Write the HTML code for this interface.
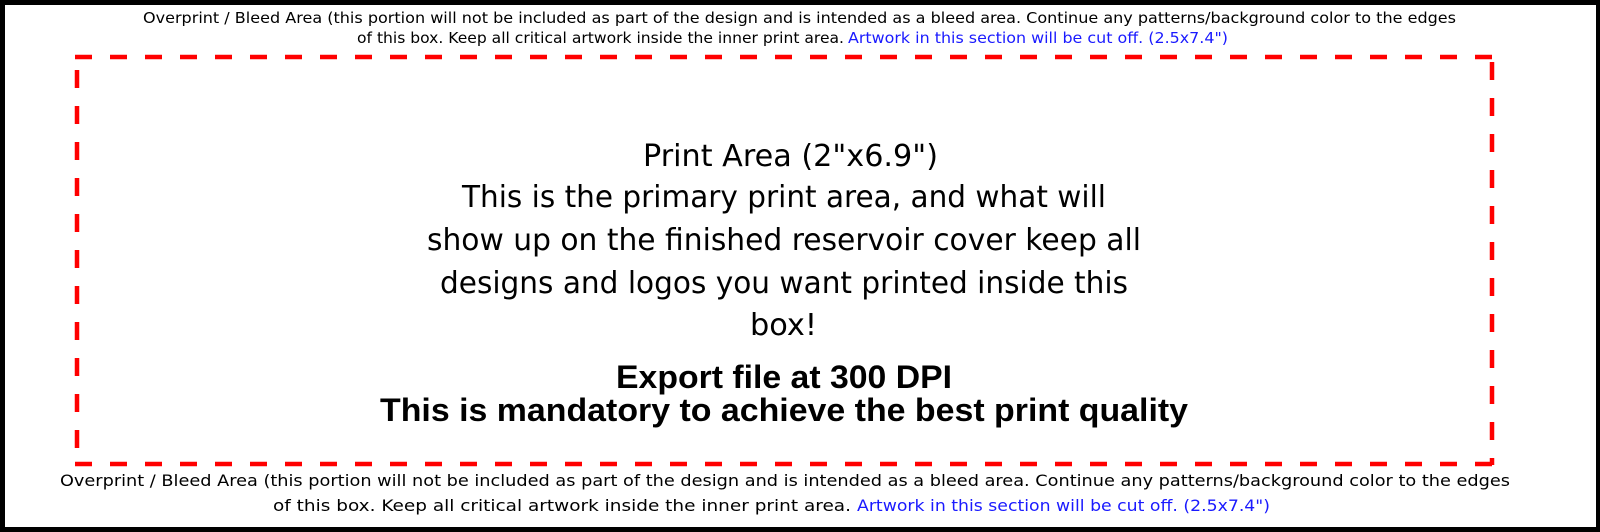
<!DOCTYPE html>
<html><head><style>
html,body{margin:0;padding:0;background:#fff;}
svg{display:block;}
text{font-family:"DejaVu Sans","Liberation Sans",sans-serif;fill:#000;}
.b{font-family:"Liberation Sans",sans-serif;font-weight:bold;}
.blue{fill:#1a1aff;}
</style></head><body>
<svg width="1600" height="532" viewBox="0 0 1600 532" xmlns="http://www.w3.org/2000/svg">
<rect x="0" y="0" width="1600" height="532" fill="#000"/>
<rect x="5" y="5" width="1591" height="522" fill="#fff"/>
<g stroke="#ff0000" stroke-width="4.5" fill="none">
<line x1="75" y1="57" x2="1494" y2="57" stroke-dasharray="17,18"/>
<line x1="77" y1="70" x2="77" y2="465" stroke-dasharray="18,18"/>
<line x1="1492" y1="57" x2="1492" y2="465" stroke-dasharray="18,18" stroke-dashoffset="-5"/>
<line x1="75" y1="464" x2="1494" y2="464" stroke-dasharray="17,18"/>
</g>
<g font-size="15">
<text x="143" y="23" textLength="1313" lengthAdjust="spacingAndGlyphs">Overprint / Bleed Area (this portion will not be included as part of the design and is intended as a bleed area. Continue any patterns/background color to the edges</text>
<text x="357" y="43" textLength="487" lengthAdjust="spacingAndGlyphs">of this box. Keep all critical artwork inside the inner print area.</text>
<text x="848" y="43" textLength="380" lengthAdjust="spacingAndGlyphs" class="blue">Artwork in this section will be cut off. (2.5x7.4")</text>
<text x="60" y="486" textLength="1450" lengthAdjust="spacingAndGlyphs" font-size="16">Overprint / Bleed Area (this portion will not be included as part of the design and is intended as a bleed area. Continue any patterns/background color to the edges</text>
<text x="273" y="511" textLength="578" lengthAdjust="spacingAndGlyphs" font-size="16">of this box. Keep all critical artwork inside the inner print area.</text>
<text x="857" y="511" textLength="413" lengthAdjust="spacingAndGlyphs" font-size="16" class="blue">Artwork in this section will be cut off. (2.5x7.4")</text>
</g>
<g font-size="30">
<text x="643" y="166" textLength="295" lengthAdjust="spacingAndGlyphs">Print Area (2"x6.9")</text>
<text x="462" y="207" textLength="644" lengthAdjust="spacingAndGlyphs">This is the primary print area, and what will</text>
<text x="427" y="250" textLength="714" lengthAdjust="spacingAndGlyphs">show up on the finished reservoir cover keep all</text>
<text x="440" y="293" textLength="688" lengthAdjust="spacingAndGlyphs">designs and logos you want printed inside this</text>
<text x="750" y="335" textLength="67" lengthAdjust="spacingAndGlyphs">box!</text>
</g>
<g font-size="32" class="b">
<text class="b" x="616" y="388" textLength="336" lengthAdjust="spacingAndGlyphs">Export file at 300 DPI</text>
<text class="b" x="380" y="421" textLength="808" lengthAdjust="spacingAndGlyphs">This is mandatory to achieve the best print quality</text>
</g>
</svg>
</body></html>
